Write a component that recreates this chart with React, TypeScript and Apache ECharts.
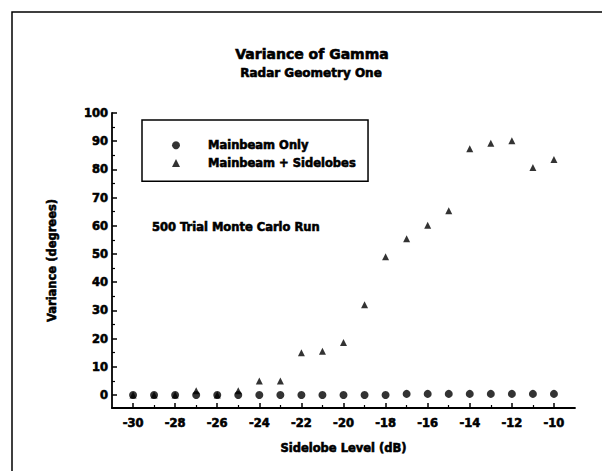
import React, { useEffect, useRef } from "react";
import * as echarts from "echarts";

const sidelobeLevels = [-30, -29, -28, -27, -26, -25, -24, -23, -22, -21, -20, -19, -18, -17, -16, -15, -14, -13, -12, -11, -10];
const mainbeamOnly = [0, 0, 0, 0, 0, 0, 0, 0, 0, 0, 0, 0, 0, 0.4, 0.4, 0.4, 0.4, 0.4, 0.4, 0.4, 0.4];
const mainbeamPlusSidelobes = [0, 0, 0, 1.5, 0, 1.5, 5, 5, 15, 15.5, 18.6, 32, 49, 55.4, 60.2, 65.3, 87.3, 89.3, 90.2, 80.7, 83.5];
const yMajorTicks = [0, 10, 20, 30, 40, 50, 60, 70, 80, 90, 100];
const yMinorTicks = [5, 15, 25, 35, 45, 55, 65, 75, 85, 95];
const xMajorTicks = [-30, -28, -26, -24, -22, -20, -18, -16, -14, -12, -10];
const xMinorTicks = [-29, -27, -25, -23, -21, -19, -17, -15, -13, -11];

const FONT = "DejaVu Sans";
const heavy = { textBorderColor: "#000", textBorderWidth: 0.6 };

export default function App() {
  const ref = useRef<HTMLDivElement>(null);
  useEffect(() => {
    if (!ref.current) return;
    const chart = echarts.init(ref.current, null, { renderer: "svg" });
    const lab = { fontFamily: FONT, fontWeight: "bold", fontSize: 11.5, color: "#000", ...heavy };
    const nameStyle = { fontFamily: FONT, fontWeight: "bold", fontSize: 11.5, color: "#000", ...heavy };
    chart.setOption({
      animation: false,
      backgroundColor: "#fff",
      grid: { left: 112, right: 27, top: 113, bottom: 63, containLabel: false },
      xAxis: [
        {
          type: "value",
          min: -31,
          max: -9,
          name: "Sidelobe Level (dB)",
          nameLocation: "middle",
          nameGap: 34,
          nameTextStyle: nameStyle,
          axisLine: { show: true, onZero: false, lineStyle: { color: "#000", width: 1.8 } },
          axisTick: { show: true, inside: true, length: 5, customValues: xMajorTicks, lineStyle: { color: "#000", width: 1.5 } },
          axisLabel: { ...lab, margin: 9, customValues: xMajorTicks, formatter: (v: number) => String(v) },
          splitLine: { show: false },
        },
        {
          type: "value",
          min: -31,
          max: -9,
          position: "bottom",
          axisLine: { show: false, onZero: false },
          axisTick: { show: true, inside: true, length: 3, customValues: xMinorTicks, lineStyle: { color: "#000", width: 1.2 } },
          axisLabel: { show: false },
          splitLine: { show: false },
        },
      ],
      yAxis: [
        {
          type: "value",
          min: -4.6,
          max: 100,
          name: "Variance (degrees)",
          nameLocation: "middle",
          nameGap: 54,
          nameRotate: 90,
          nameTextStyle: nameStyle,
          axisLine: { show: true, onZero: false, lineStyle: { color: "#000", width: 1.8 } },
          axisTick: { show: true, inside: true, length: 5, customValues: yMajorTicks, lineStyle: { color: "#000", width: 1.5 } },
          axisLabel: { ...lab, margin: 4, customValues: yMajorTicks, formatter: (v: number) => String(v) },
          splitLine: { show: false },
        },
        {
          type: "value",
          min: -4.6,
          max: 100,
          position: "left",
          axisLine: { show: false, onZero: false },
          axisTick: { show: true, inside: true, length: 3, customValues: yMinorTicks, lineStyle: { color: "#000", width: 1.2 } },
          axisLabel: { show: false },
          splitLine: { show: false },
        },
      ],
      legend: {
        show: true,
        orient: "vertical",
        left: 142,
        top: 120,
        borderColor: "#000",
        borderWidth: 1.5,
        padding: [19, 12, 12, 30],
        itemWidth: 8,
        itemHeight: 8,
        itemGap: 5,
        align: "left",
        textStyle: { fontFamily: FONT, fontWeight: "bold", fontSize: 11.5, color: "#000", lineHeight: 12, padding: [0, 0, 0, 23], ...heavy },
        data: [
          { name: "Mainbeam Only", icon: "circle" },
          { name: "Mainbeam + Sidelobes", icon: "triangle" },
        ],
      },
      graphic: [
        { type: "rect", shape: { x: 12, y: 12, width: 620, height: 500 }, style: { fill: "none", stroke: "#000", lineWidth: 1.5 }, silent: true },
        { type: "text", x: 312, y: 54, style: { text: "Variance of Gamma", fontFamily: FONT, fontWeight: "bold", fontSize: 14, fill: "#000", align: "center", verticalAlign: "middle", stroke: "#000", lineWidth: 0.6 } },
        { type: "text", x: 311, y: 73, style: { text: "Radar Geometry One", fontFamily: FONT, fontWeight: "bold", fontSize: 12, fill: "#000", align: "center", verticalAlign: "middle", stroke: "#000", lineWidth: 0.6 } },
        { type: "text", x: 152, y: 227, style: { text: "500 Trial Monte Carlo Run", fontFamily: FONT, fontWeight: "bold", fontSize: 11.5, fill: "#000", align: "left", verticalAlign: "middle", stroke: "#000", lineWidth: 0.6 } },
      ],
      series: [
        {
          name: "Mainbeam + Sidelobes",
          type: "scatter",
          symbol: "triangle",
          symbolSize: 7,
          itemStyle: { color: "#000" },
          data: sidelobeLevels.map((x, i) => [x, mainbeamPlusSidelobes[i]]),
        },
        {
          name: "Mainbeam Only",
          type: "scatter",
          symbol: "circle",
          symbolSize: 8,
          itemStyle: { color: "#000" },
          data: sidelobeLevels.map((x, i) => [x, mainbeamOnly[i]]),
        },
      ],
    });
    return () => chart.dispose();
  }, []);
  return <div ref={ref} style={{ position: "fixed", left: 0, top: 0, width: 602, height: 471 }} />;
}
